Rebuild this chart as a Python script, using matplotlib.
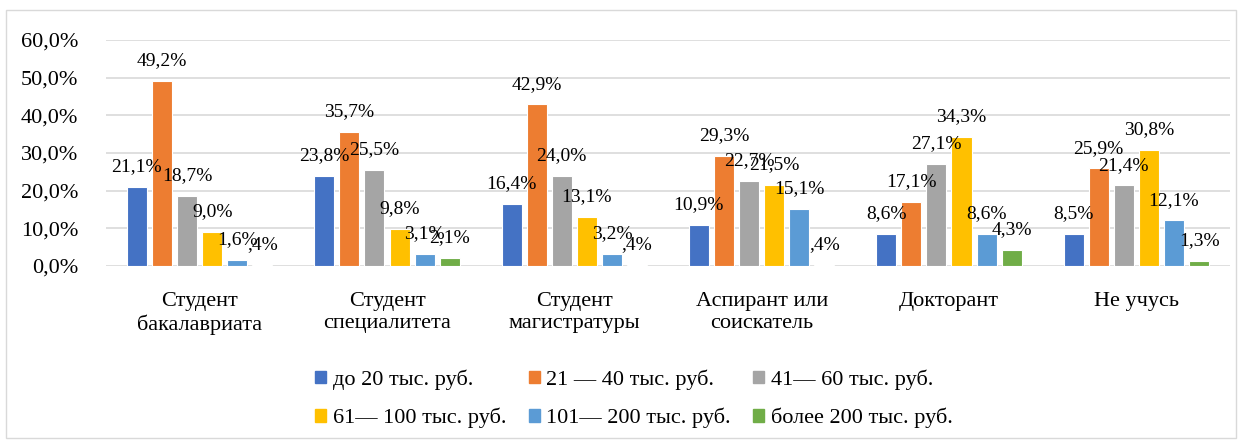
import matplotlib

matplotlib.use("Agg")
import matplotlib.pyplot as plt
import numpy as np
from matplotlib.patches import Patch, Rectangle

plt.rcParams["font.family"] = ["Liberation Serif", "DejaVu Serif"]

categories = ["Студент\nбакалавриата", "Студент\nспециалитета", "Студент\nмагистратуры",
              "Аспирант или\nсоискатель", "Докторант", "Не учусь"]
series_names = ["до 20 тыс. руб.", "21 — 40 тыс. руб.", "41— 60 тыс. руб.",
                "61— 100 тыс. руб.", "101— 200 тыс. руб.", "более 200 тыс. руб."]
colors = ["#4472C4", "#ED7D31", "#A5A5A5", "#FFC000", "#5B9BD5", "#70AD47"]

# percent values per series, one entry per category
s_20 = [21.1, 23.8, 16.4, 10.9, 8.6, 8.5]
s_40 = [49.2, 35.7, 42.9, 29.3, 17.1, 25.9]
s_60 = [18.7, 25.5, 24.0, 22.7, 27.1, 21.4]
s_100 = [9.0, 9.8, 13.1, 21.5, 34.3, 30.8]
s_200 = [1.6, 3.1, 3.2, 15.1, 8.6, 12.1]
s_more = [0.4, 2.1, 0.4, 0.4, 4.3, 1.3]
series = [s_20, s_40, s_60, s_100, s_200, s_more]

yticks = [0, 10, 20, 30, 40, 50, 60]


def fmt(v):
    s = f"{v:.1f}%".replace(".", ",")
    # Excel labels for sub-1% values show up as ",4%"
    return s[1:] if v < 1 else s


fig = plt.figure(figsize=(12.43, 4.43), dpi=100)
fig.patches.append(Rectangle((0.005, 0.012), 0.989, 0.966, transform=fig.transFigure,
                             fill=False, ec="#D9D9D9", lw=1))
ax = fig.add_axes([0.0853, 0.3995, 0.9042, 0.5102])

x = np.arange(len(categories))
pitch, width = 0.134, 0.107
handles = []
for k, (vals, col, name) in enumerate(zip(series, colors, series_names)):
    pos = x + (k - 2.5) * pitch
    ax.bar(pos, vals, width=width, color=col, edgecolor="white", lw=0.8, zorder=3)
    for xp, v in zip(pos, vals):
        ax.annotate(fmt(v), (xp, v), xytext=(0, 8.5), textcoords="offset points",
                    ha="center", va="bottom", fontsize=14, zorder=4)
    handles.append(Patch(color=col, label=name))

ax.set_xlim(-0.5, len(categories) - 0.5)
ax.set_ylim(0, 60)
ax.set_yticks(yticks, [f"{t:.1f}%".replace(".", ",") for t in yticks], fontsize=16)
ax.set_xticks(x, categories, fontsize=16, linespacing=1.2)
ax.tick_params(axis="both", length=0)
ax.tick_params(axis="y", pad=20)
ax.tick_params(axis="x", pad=19)
ax.grid(axis="y", color="#D9D9D9", lw=1.2, zorder=0)
for sp in ax.spines.values():
    sp.set_visible(False)

order = [0, 3, 1, 4, 2, 5]
fig.legend([handles[i] for i in order], [series_names[i] for i in order], ncol=3,
           loc="center", bbox_to_anchor=(0.51, 0.10), frameon=False, fontsize=16,
           handlelength=0.5, handleheight=0.5, handletextpad=0.3, columnspacing=1.0,
           labelspacing=0.8)

fig.savefig("out.png", dpi=100)
